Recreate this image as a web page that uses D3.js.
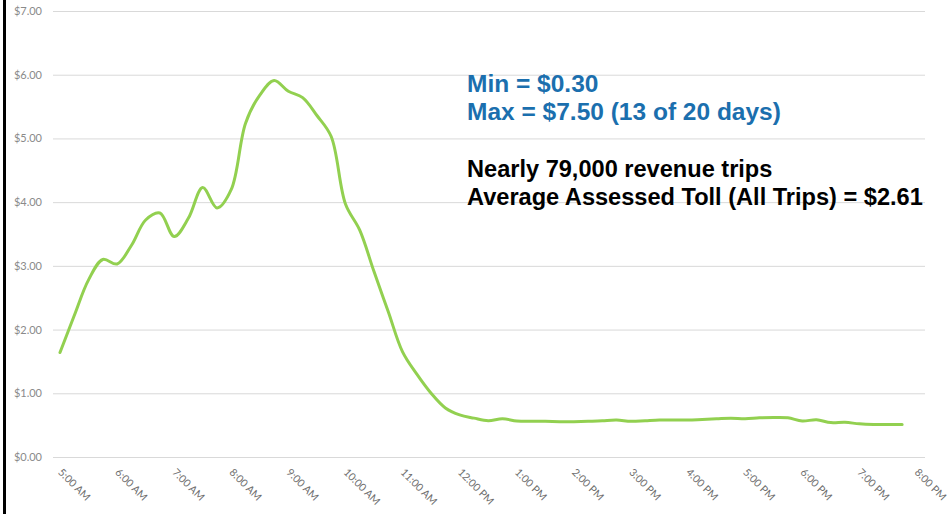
<!DOCTYPE html>
<html>
<head>
<meta charset="utf-8">
<script src="https://cdn.jsdelivr.net/npm/d3@7"></script>
<style>
  html, body { margin: 0; padding: 0; background: #fff; }
  svg { display: block; }
</style>
</head>
<body>
<svg id="chart" width="948" height="514"></svg>
<script>
// ---- data ----
const hourTicks = [5, 6, 7, 8, 9, 10, 11, 12, 13, 14, 15, 16, 17, 18, 19, 20];
const hourTickLabels = ["5:00 AM", "6:00 AM", "7:00 AM", "8:00 AM", "9:00 AM", "10:00 AM", "11:00 AM",
  "12:00 PM", "1:00 PM", "2:00 PM", "3:00 PM", "4:00 PM", "5:00 PM", "6:00 PM", "7:00 PM", "8:00 PM"];
const yTickValues = [0, 1, 2, 3, 4, 5, 6, 7];
// average assessed toll, 15-minute intervals from 5:00 AM to 7:45 PM
const tollValues = [
  1.64, 2.22, 2.78, 3.10, 3.03, 3.32, 3.72, 3.83, 3.46, 3.75, 4.23, 3.91,
  4.20, 5.24, 5.68, 5.91, 5.74, 5.64, 5.36, 5.03, 3.97, 3.56, 2.91, 2.28,
  1.65, 1.30, 1.00, 0.77, 0.66, 0.61, 0.57, 0.60, 0.565, 0.56, 0.56, 0.555,
  0.555, 0.56, 0.57, 0.58, 0.56, 0.57, 0.58, 0.58, 0.58, 0.59, 0.60, 0.61,
  0.60, 0.615, 0.62, 0.615, 0.565, 0.585, 0.54, 0.545, 0.52, 0.51, 0.51, 0.51
];
const startHour = 5;
const stepHours = 0.25;
const blueNotes = ["Min = $0.30", "Max = $7.50 (13 of 20 days)"];
const blackNotes = ["Nearly 79,000 revenue trips", "Average Assessed Toll (All Trips) = $2.61"];

// ---- drawing ----
const svg = d3.select("#chart");
const plotLeft = 53, plotRight = 925, plotTop = 11, plotBottom = 457;

const x = d3.scaleLinear().domain([5, 20]).range([60, 916.4]);
const y = d3.scaleLinear().domain([0, 7]).range([plotBottom, plotTop]);

// left black border
svg.append("rect").attr("x", 3).attr("y", 0).attr("width", 3).attr("height", 514).attr("fill", "#000");

// y axis + gridlines
const yAxis = svg.append("g")
  .attr("transform", `translate(${plotLeft},0)`)
  .call(d3.axisLeft(y).tickValues(yTickValues).tickSize(-(plotRight - plotLeft)).tickPadding(11)
    .tickFormat(d => "$" + d3.format(".2f")(d)));
yAxis.select(".domain").remove();
yAxis.selectAll(".tick line").attr("stroke", "#d9d9d9").attr("stroke-width", 1);
yAxis.selectAll(".tick text").attr("fill", "#8a8a8a").style("font-family", "Lato, 'Noto Sans', sans-serif").style("font-size", "11px");

// x axis
const xAxis = svg.append("g")
  .attr("transform", `translate(0,${plotBottom})`)
  .call(d3.axisBottom(x).tickValues(hourTicks).tickSize(0)
    .tickFormat((d, i) => hourTickLabels[i]));
xAxis.select(".domain").remove();
xAxis.selectAll(".tick text")
  .attr("x", 0).attr("y", 0).attr("dy", 0)
  .attr("transform", "translate(-3,16) rotate(45)")
  .attr("text-anchor", "start")
  .attr("fill", "#6e6e6e")
  .style("font-family", "Lato, 'Noto Sans', sans-serif")
  .style("font-size", "10.5px");

// line
const line = d3.line()
  .x((d, i) => x(startHour + i * stepHours))
  .y(d => y(d))
  .curve(d3.curveCatmullRom.alpha(0.5));
svg.append("path")
  .datum(tollValues)
  .attr("d", line)
  .attr("fill", "none")
  .attr("stroke", "#92d050")
  .attr("stroke-width", 3)
  .attr("stroke-linejoin", "round")
  .attr("stroke-linecap", "round");

// annotations
function fitText(sel, targetWidth) {
  const w = sel.node().getComputedTextLength();
  const fs = parseFloat(sel.style("font-size"));
  sel.style("font-size", (fs * targetWidth / w) + "px");
}
const noteFont = "'Liberation Sans', Arial, sans-serif";
const b1 = svg.append("text").attr("x", 467).attr("y", 92).text(blueNotes[0])
  .attr("fill", "#1b6fae").style("font-family", noteFont).style("font-weight", "bold").style("font-size", "20px");
const b2 = svg.append("text").attr("x", 467).attr("y", 120).text(blueNotes[1])
  .attr("fill", "#1b6fae").style("font-family", noteFont).style("font-weight", "bold").style("font-size", "20px");
fitText(b2, 314);
b1.style("font-size", b2.style("font-size"));
const k1 = svg.append("text").attr("x", 467).attr("y", 177).text(blackNotes[0])
  .attr("fill", "#000").style("font-family", noteFont).style("font-weight", "bold").style("font-size", "20px");
const k2 = svg.append("text").attr("x", 467).attr("y", 205).text(blackNotes[1])
  .attr("fill", "#000").style("font-family", noteFont).style("font-weight", "bold").style("font-size", "20px");
fitText(k2, 456);
k1.style("font-size", k2.style("font-size"));
</script>
</body>
</html>
